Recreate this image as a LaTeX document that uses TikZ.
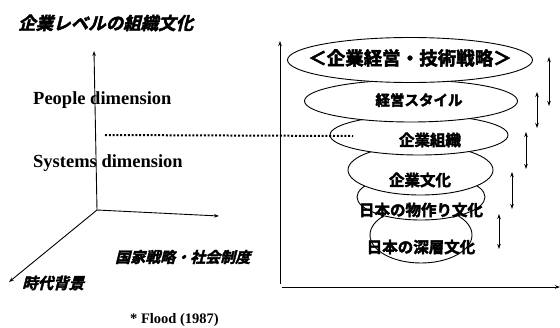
\documentclass[tikz,border=0pt]{standalone}
\usepackage{fontspec}
\setmainfont{Liberation Serif}
\newfontfamily\jpb{Noto Sans CJK JP Bold}[FakeBold=2.5]
\newfontfamily\jpbi{Noto Sans CJK JP Bold}[FakeSlant=0.25,FakeBold=2.5]
\usetikzlibrary{shapes.geometric,arrows.meta}
\begin{document}
\begin{tikzpicture}[x=1pt,y=-1pt,
  axis/.style={line width=0.9pt,-{Stealth[length=5pt,width=3.5pt]}},
  dbl/.style={line width=0.9pt,{Stealth[length=5pt,width=3.5pt]}-{Stealth[length=5pt,width=3.5pt]}},
  layer/.style={ellipse,draw,line width=0.9pt,fill=white,inner sep=0pt},
  dimlabel/.style={anchor=west,inner sep=0pt,font=\fontsize{18.5}{20}\selectfont\bfseries},
  jptext/.style={inner sep=0pt,font=\jpb\fontsize{15.5}{16}\selectfont},
  jpital/.style={anchor=west,inner sep=0pt,font=\jpbi\fontsize{15.5}{16}\selectfont}]
\path[use as bounding box,fill=white] (0,0) rectangle (560,327);

% title
\node[jpital,font=\jpbi\fontsize{17.5}{18}\selectfont] (title) at (18,23) {企業レベルの組織文化};

% left 3D axes
\coordinate (o) at (97,210);
\coordinate (ytop) at (94,51);
\coordinate (xend) at (219,216);
\coordinate (zend) at (9,282);
\draw[axis] (o) -- (ytop);
\draw[axis] (o) -- (xend);
\draw[axis] (o) -- (zend);

\node[dimlabel] (people) at (33,100) {People dimension};
\node[dimlabel] (systems) at (33,163) {Systems dimension};
\node[jpital,font=\jpbi\fontsize{15}{16}\selectfont] (kokka) at (115,257) {国家戦略・社会制度};
\node[jpital] (jidai) at (22,283) {時代背景};
\node[anchor=west,inner sep=0pt,font=\fontsize{14.5}{16}\selectfont\bfseries] (flood) at (130,320) {* Flood (1987)};

% right axes
\coordinate (rbot) at (280,284);
\coordinate (rtop) at (280,41);
\coordinate (hstart) at (282,287);
\coordinate (hend) at (560,287);
\draw[axis] (rbot) -- (rtop);
\draw[axis] (hstart) -- (hend);

% layers (bottom first)
\node[layer,minimum width=102pt,minimum height=56pt] (e6) at (421,235) {};
\node[layer,minimum width=128pt,minimum height=46pt] (e5) at (421,197) {};
\node[layer,minimum width=145pt,minimum height=50pt] (e4) at (420.5,170) {};
\node[layer,minimum width=178pt,minimum height=40pt] (e3) at (419,135) {};
\node[layer,minimum width=213pt,minimum height=42pt] (e2) at (411,101) {};
\node[layer,minimum width=245pt,minimum height=45pt] (e1) at (410,60) {};

\node[jptext,font=\jpb\fontsize{18.5}{18}\selectfont] (t1) at (410,58) {＜企業経営・技術戦略＞};
\node[jptext,font=\jpb\fontsize{14.5}{16}\selectfont] (t2) at (419,100) {経営スタイル};
\node[jptext] (t3) at (430,140) {企業組織};
\node[jptext] (t4) at (420,180) {企業文化};
\node[jptext] (t5) at (421,210) {日本の物作り文化};
\node[jptext] (t6) at (421,247) {日本の深層文化};

% dotted line
\coordinate (d1) at (105,135);
\coordinate (d2) at (353,136);
\draw[line width=2pt,dash pattern=on 2pt off 1.8pt] (d1) -- (d2);

% double arrows
\coordinate (a1t) at (549,57); \coordinate (a1b) at (549,106);
\coordinate (a2t) at (537,92); \coordinate (a2b) at (537,128);
\coordinate (a3t) at (526,132); \coordinate (a3b) at (526,169);
\coordinate (a4t) at (512,172); \coordinate (a4b) at (512,209);
\coordinate (a5t) at (499,214); \coordinate (a5b) at (499,249);
\draw[dbl] (a1t) -- (a1b);
\draw[dbl] (a2t) -- (a2b);
\draw[dbl] (a3t) -- (a3b);
\draw[dbl] (a4t) -- (a4b);
\draw[dbl] (a5t) -- (a5b);
\end{tikzpicture}
\end{document}
